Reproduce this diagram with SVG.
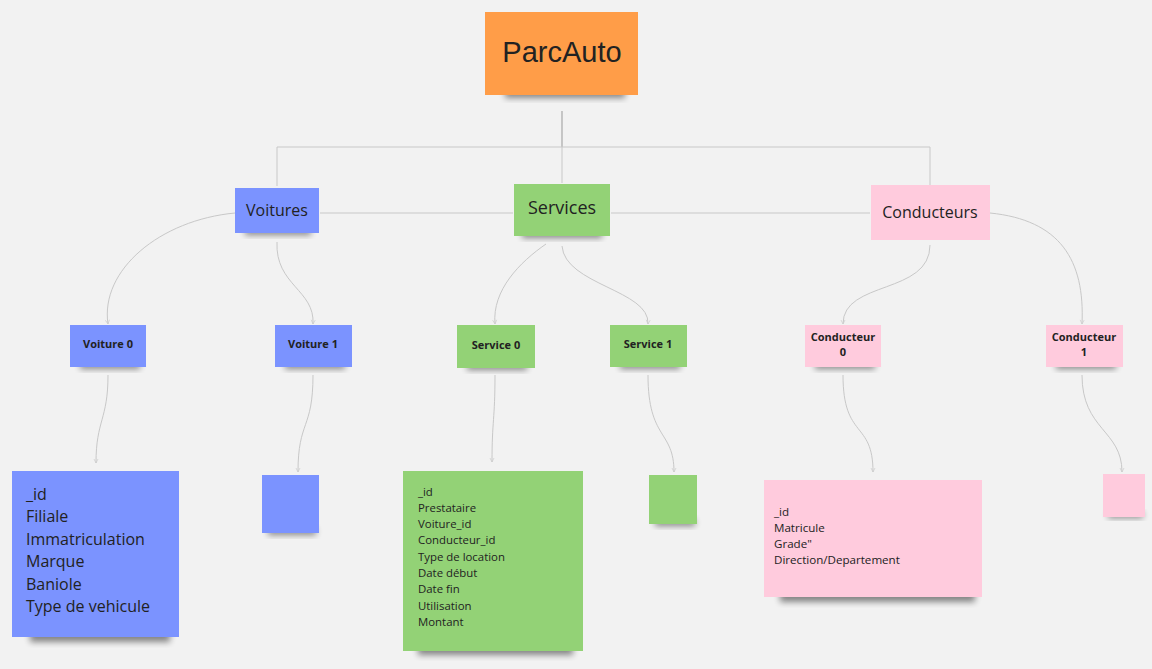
<svg xmlns="http://www.w3.org/2000/svg" width="1152" height="669" viewBox="0 0 1152 669">
<defs>
<filter id="sh" x="-20%" y="-50%" width="140%" height="200%"><feGaussianBlur stdDeviation="3"/></filter>
<marker id="ar" markerWidth="6" markerHeight="6" refX="5" refY="3" orient="auto" markerUnits="userSpaceOnUse"><path d="M1,1 L5,3 L1,5" fill="none" stroke="#ccc" stroke-width="0.7"/></marker>
</defs>
<style>
.bg{fill:#f2f2f2}
.shadow{fill:#000;opacity:0.45;filter:url(#sh)}
.blue{fill:#7b93ff}
.green{fill:#93d276}
.pink{fill:#ffcbdd}
.orange{fill:#ff9d48}
.t{font-family:"Open Sans","Noto Sans",sans-serif;fill:#222}
.b{font-weight:bold;font-size:11px}
.c{fill:none;stroke:#c8c8c8;stroke-width:1}
.ca{fill:none;stroke:#c8c8c8;stroke-width:1;marker-end:url(#ar)}
</style>
<rect class="bg" x="0" y="0" width="1152" height="669"/>

<g id="connectors">
<path class="c" d="M562,111 V147" style="stroke:#999"/>
<path class="c" d="M277,186 V147 H930 V185"/>
<path class="c" d="M562,147 V183"/>
<path class="c" d="M320,213 H513"/>
<path class="c" d="M611,213 H870"/>
<path class="ca" d="M235,213 C160,220 100,270 108,324"/>
<path class="ca" d="M277,242 C275,285 315,290 313,324"/>
<path class="ca" d="M546,244 C520,262 492,290 495,324"/>
<path class="ca" d="M562,246 C565,285 650,290 648,324"/>
<path class="ca" d="M930,245 C930,295 843,280 843,324"/>
<path class="ca" d="M990,213 C1060,220 1085,260 1082,324"/>
<path class="ca" d="M108,375 C108,420 96,420 96,463"/>
<path class="ca" d="M313,375 C313,430 298,420 298,472"/>
<path class="ca" d="M495,375 C495,420 492,420 492,462"/>
<path class="ca" d="M648,375 C648,440 674,430 674,472"/>
<path class="ca" d="M843,375 C843,440 873,420 873,472"/>
<path class="ca" d="M1082,375 C1082,430 1122,430 1122,472"/>
</g>

<g id="parcauto">
<rect class="shadow" x="505" y="88" width="120" height="10"/>
<rect class="orange" x="485" y="12" width="153" height="83"/>
<text class="t" x="562" y="62" text-anchor="middle" style="font-family:'Liberation Sans',Arial,sans-serif;font-size:29px">ParcAuto</text>
</g>

<g id="voitures">
<rect class="shadow" x="245" y="228" width="66" height="7"/>
<rect class="blue" x="235" y="188" width="84" height="45"/>
<text class="t" x="277" y="216" text-anchor="middle" font-size="16">Voitures</text>
</g>

<g id="services">
<rect class="shadow" x="522" y="230" width="80" height="8"/>
<rect class="green" x="514" y="184" width="96" height="52"/>
<text class="t" x="562" y="214" text-anchor="middle" font-size="18">Services</text>
</g>

<g id="conducteurs">
<rect class="pink" x="871" y="185" width="119" height="55"/>
<text class="t" x="930" y="218" text-anchor="middle" font-size="16">Conducteurs</text>
</g>

<g id="voiture0">
<rect class="shadow" x="80" y="362" width="60" height="7"/>
<rect class="blue" x="70" y="325" width="76" height="42"/>
<text class="t b" x="108" y="348" text-anchor="middle">Voiture 0</text>
</g>

<g id="voiture1">
<rect class="shadow" x="285" y="362" width="60" height="7"/>
<rect class="blue" x="275" y="325" width="77" height="42"/>
<text class="t b" x="313" y="348" text-anchor="middle">Voiture 1</text>
</g>

<g id="service0">
<rect class="shadow" x="467" y="363" width="60" height="7"/>
<rect class="green" x="457" y="325" width="78" height="43"/>
<text class="t b" x="496" y="349" text-anchor="middle">Service 0</text>
</g>

<g id="service1">
<rect class="shadow" x="620" y="362" width="60" height="7"/>
<rect class="green" x="610" y="325" width="77" height="42"/>
<text class="t b" x="648" y="348" text-anchor="middle">Service 1</text>
</g>

<g id="conducteur0">
<rect class="shadow" x="815" y="362" width="60" height="7"/>
<rect class="pink" x="805" y="325" width="76" height="42"/>
<text class="t b" x="843" y="341" text-anchor="middle">Conducteur</text>
<text class="t b" x="843" y="356" text-anchor="middle">0</text>
</g>

<g id="conducteur1">
<rect class="shadow" x="1056" y="362" width="60" height="7"/>
<rect class="pink" x="1046" y="325" width="77" height="42"/>
<text class="t b" x="1084" y="341" text-anchor="middle">Conducteur</text>
<text class="t b" x="1084" y="356" text-anchor="middle">1</text>
</g>

<g id="voiture-note">
<rect class="shadow" x="30" y="630" width="140" height="12"/>
<rect class="blue" x="12" y="471" width="167" height="166"/>
<g class="t" font-size="16">
<text x="26" y="500">_id</text>
<text x="26" y="522">Filiale</text>
<text x="26" y="545">Immatriculation</text>
<text x="26" y="567">Marque</text>
<text x="26" y="590">Baniole</text>
<text x="26" y="612">Type de vehicule</text>
</g>
</g>

<g id="voiture1-note">
<rect class="shadow" x="268" y="528" width="48" height="7"/>
<rect class="blue" x="262" y="475" width="57" height="58"/>
</g>

<g id="service-note">
<rect class="shadow" x="418" y="643" width="155" height="12"/>
<rect class="green" x="403" y="471" width="180" height="180"/>
<g class="t" font-size="11.4">
<text x="418" y="496">_id</text>
<text x="418" y="512">Prestataire</text>
<text x="418" y="528">Voiture_id</text>
<text x="418" y="544">Conducteur_id</text>
<text x="418" y="561">Type de location</text>
<text x="418" y="577">Date début</text>
<text x="418" y="593">Date fin</text>
<text x="418" y="610">Utilisation</text>
<text x="418" y="626">Montant</text>
</g>
</g>

<g id="service1-note">
<rect class="shadow" x="655" y="519" width="40" height="7"/>
<rect class="green" x="649" y="475" width="48" height="49"/>
</g>

<g id="conducteur-note">
<rect class="shadow" x="780" y="590" width="195" height="12"/>
<rect class="pink" x="764" y="480" width="218" height="117"/>
<g class="t" font-size="11.6">
<text x="774" y="516">_id</text>
<text x="774" y="532">Matricule</text>
<text x="774" y="548">Grade"</text>
<text x="774" y="564">Direction/Departement</text>
</g>
</g>

<g id="conducteur1-note">
<rect class="shadow" x="1108" y="512" width="35" height="6"/>
<rect class="pink" x="1103" y="474" width="42" height="43"/>
</g>
</svg>
